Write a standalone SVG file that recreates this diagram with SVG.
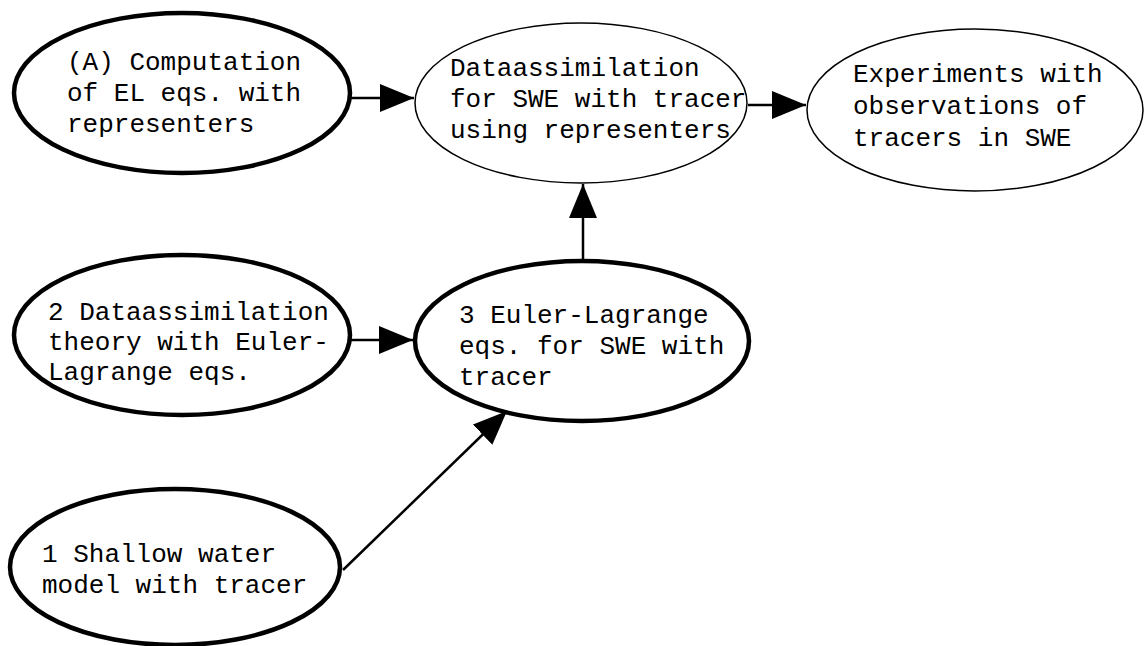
<svg xmlns="http://www.w3.org/2000/svg" width="1144" height="646" viewBox="0 0 1144 646">
  <style>
    .bold { fill: #fff; stroke: #000; stroke-width: 4.5; }
    .thin { fill: #fff; stroke: #000; stroke-width: 1.5; }
    .lbl { font-family: "Liberation Mono", "Courier New", monospace; font-size: 26px; fill: #000; }
    .edge { fill: none; stroke: #000; stroke-width: 2.5; }
  </style>
  <defs>
    <marker id="arrow" markerUnits="userSpaceOnUse" markerWidth="36" markerHeight="30" refX="34" refY="14" orient="auto">
      <path d="M0,0 L34,14 L0,28 z" fill="#000"/>
    </marker>
  </defs>

  <g id="connectors">
    <line class="edge" x1="350" y1="98" x2="414" y2="98" marker-end="url(#arrow)"/>
    <line class="edge" x1="748" y1="105" x2="806" y2="105" marker-end="url(#arrow)"/>
    <line class="edge" x1="583" y1="261" x2="583" y2="184" marker-end="url(#arrow)"/>
    <line class="edge" x1="350" y1="340" x2="413" y2="340" marker-end="url(#arrow)"/>
    <line class="edge" x1="343" y1="570" x2="507" y2="411" marker-end="url(#arrow)"/>
  </g>

  <g id="nodeA">
    <ellipse class="bold" cx="182" cy="93" rx="168" ry="80"/>
    <text class="lbl" x="67" y="70">(A) Computation</text>
    <text class="lbl" x="67" y="101">of EL eqs. with</text>
    <text class="lbl" x="67" y="132">representers</text>
  </g>

  <g id="nodeData">
    <ellipse class="thin" cx="581" cy="103" rx="166" ry="80"/>
    <text class="lbl" x="450" y="76">Dataassimilation</text>
    <text class="lbl" x="450" y="107">for SWE with tracer</text>
    <text class="lbl" x="450" y="138">using representers</text>
  </g>

  <g id="nodeExp">
    <ellipse class="thin" cx="975" cy="110" rx="168" ry="81"/>
    <text class="lbl" x="853" y="82">Experiments with</text>
    <text class="lbl" x="853" y="114">observations of</text>
    <text class="lbl" x="853" y="146">tracers in SWE</text>
  </g>

  <g id="node2">
    <ellipse class="bold" cx="182" cy="335" rx="168" ry="80"/>
    <text class="lbl" x="48" y="320">2 Dataassimilation</text>
    <text class="lbl" x="48" y="350">theory with Euler-</text>
    <text class="lbl" x="48" y="380">Lagrange eqs.</text>
  </g>

  <g id="node3">
    <ellipse class="bold" cx="582" cy="341" rx="167" ry="80"/>
    <text class="lbl" x="459" y="323">3 Euler-Lagrange</text>
    <text class="lbl" x="459" y="354">eqs. for SWE with</text>
    <text class="lbl" x="459" y="385">tracer</text>
  </g>

  <g id="node1">
    <ellipse class="bold" cx="175" cy="567" rx="165" ry="78"/>
    <text class="lbl" x="42" y="562">1 Shallow water</text>
    <text class="lbl" x="42" y="593">model with tracer</text>
  </g>
</svg>
